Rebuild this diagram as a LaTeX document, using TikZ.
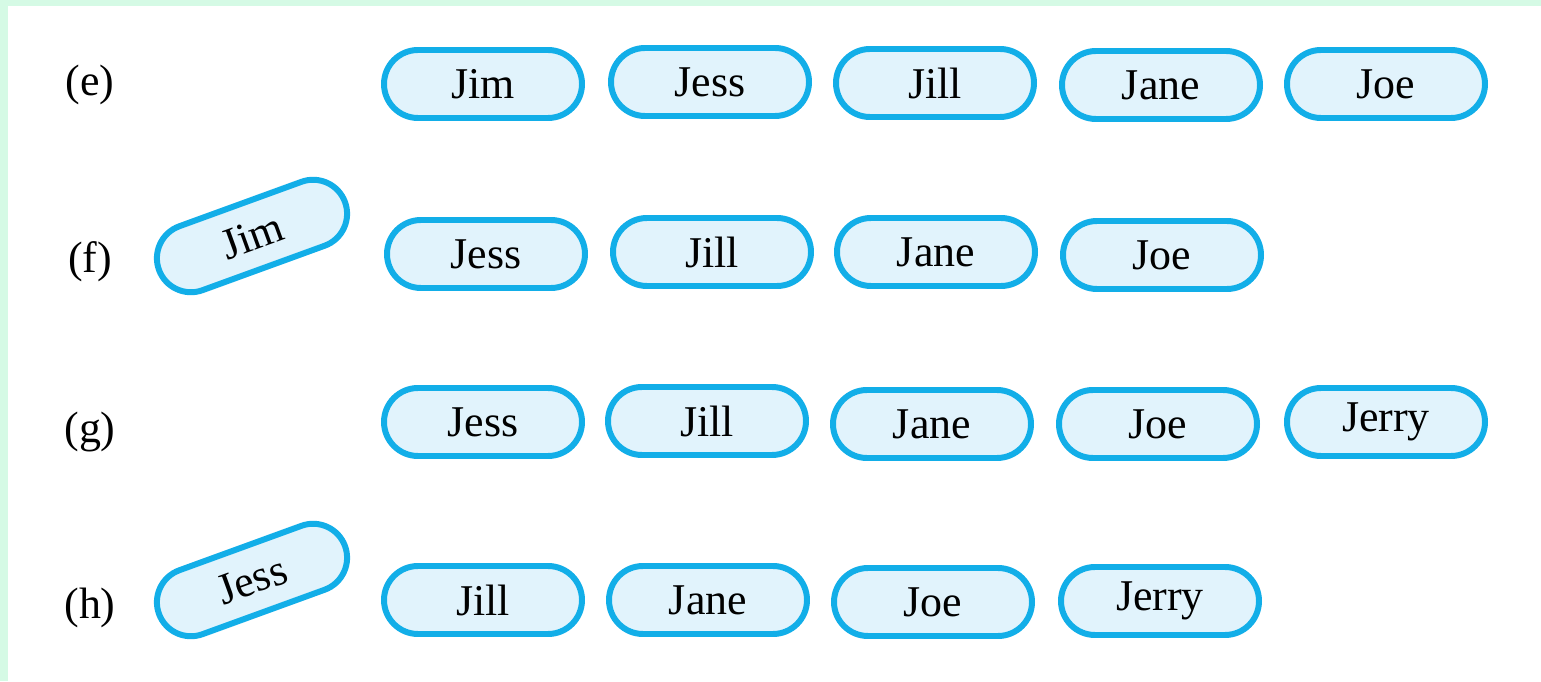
\documentclass[tikz,border=0pt]{standalone}
\usepackage{fontspec}
\setmainfont{Liberation Serif}
\definecolor{pillline}{HTML}{12AEE8}
\definecolor{pillfill}{HTML}{E1F3FC}
\definecolor{frame}{HTML}{D5FAE5}
\begin{document}
\begin{tikzpicture}[every node/.style={font=\fontsize{12.5}{15}\selectfont},
  pill/.style={draw=pillline,line width=1.7pt,fill=pillfill,rectangle,rounded corners=0.34cm,
    minimum width=1.98cm,minimum height=0.68cm,inner sep=0pt}]
  \useasboundingbox (0,0) rectangle (15.41,6.81);
  \fill[frame] (0,0) rectangle (15.41,6.81);
  \fill[white] (0.08,0) rectangle (15.41,6.75);
  % row (e)
  \node (le) at (0.90,5.96) {(e)};
  \node[pill] (eJim)  at (4.83,5.97) {Jim};
  \node[pill] (eJess) at (7.10,5.99) {Jess};
  \node[pill] (eJill) at (9.35,5.98) {Jill};
  \node[pill] (eJane) at (11.61,5.96) {Jane};
  \node[pill] (eJoe)  at (13.86,5.97) {Joe};
  % row (f)
  \node (lf) at (0.90,4.19) {(f)};
  \node[pill,rotate=20] (fJim) at (2.52,4.45) {Jim};
  \node[pill] (fJess) at (4.86,4.27) {Jess};
  \node[pill] (fJill) at (7.12,4.29) {Jill};
  \node[pill] (fJane) at (9.36,4.29) {Jane};
  \node[pill] (fJoe)  at (11.62,4.26) {Joe};
  % row (g)
  \node (lg) at (0.90,2.49) {(g)};
  \node[pill] (gJess)  at (4.83,2.59) {Jess};
  \node[pill] (gJill)  at (7.07,2.60) {Jill};
  \node[pill] (gJane)  at (9.32,2.57) {Jane};
  \node[pill] (gJoe)   at (11.58,2.57) {Joe};
  \node[pill] (gJerry) at (13.86,2.59) {Jerry};
  % row (h)
  \node (lh) at (0.90,0.73) {(h)};
  \node[pill,rotate=20] (hJess) at (2.52,1.01) {Jess};
  \node[pill] (hJill)  at (4.83,0.81) {Jill};
  \node[pill] (hJane)  at (7.08,0.81) {Jane};
  \node[pill] (hJoe)   at (9.33,0.79) {Joe};
  \node[pill] (hJerry) at (11.60,0.80) {Jerry};
\end{tikzpicture}
\end{document}
